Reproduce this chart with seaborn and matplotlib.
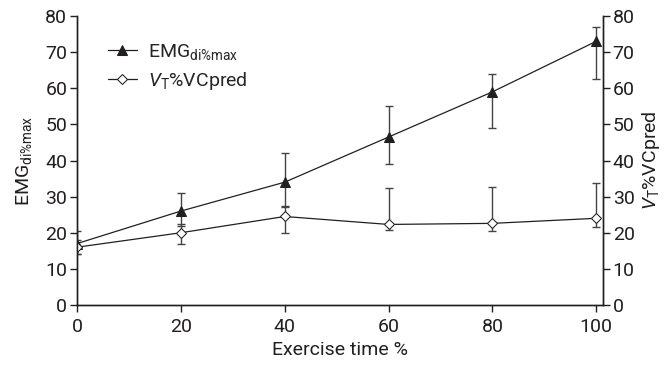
import numpy as np
import pandas as pd
import matplotlib
matplotlib.use("Agg")
import matplotlib.pyplot as plt
import seaborn as sns

# values
time_pct = [0, 20, 40, 60, 80, 100]
emg = [17.0, 26.0, 34.0, 46.5, 59.0, 73.0]
emg_lo = [14.0, 22.0, 27.5, 39.0, 49.0, 62.5]
emg_hi = [20.5, 31.0, 42.0, 55.0, 64.0, 77.0]
vt = [16.0, 20.0, 24.5, 22.3, 22.6, 24.0]
vt_lo = [14.0, 16.8, 20.0, 20.8, 20.5, 21.5]
vt_hi = [18.0, 22.5, 27.0, 32.3, 32.6, 33.8]
y_ticks = [0, 10, 20, 30, 40, 50, 60, 70, 80]
x_ticks = [0, 20, 40, 60, 80, 100]

sns.set_style("ticks")
plt.rcParams["font.family"] = ["Roboto", "DejaVu Sans"]
plt.rcParams["mathtext.fontset"] = "custom"
plt.rcParams["mathtext.rm"] = "Roboto"
plt.rcParams["mathtext.it"] = "Roboto:italic"

df = pd.DataFrame({"time": time_pct, "emg": emg, "vt": vt})

fig = plt.figure(figsize=(6.65, 3.67), dpi=100)
ax = fig.add_axes([77 / 665, 62 / 367, 526 / 665, 289 / 367])
ax2 = ax.twinx()

col = "#231f20"
fs = 14
ax.errorbar(time_pct, emg, yerr=[np.subtract(emg, emg_lo), np.subtract(emg_hi, emg)],
            fmt="none", ecolor="#444444", elinewidth=1.0, capsize=3, capthick=1.0)
sns.lineplot(data=df, x="time", y="emg", ax=ax, color=col, lw=0.9, marker="^",
             markersize=6.5, markerfacecolor=col, markeredgecolor=col,
             label=r"EMG$_{\mathrm{di\%max}}$", legend=False)
ax2.errorbar(time_pct, vt, yerr=[np.subtract(vt, vt_lo), np.subtract(vt_hi, vt)],
             fmt="none", ecolor="#444444", elinewidth=1.0, capsize=3, capthick=1.0)
sns.lineplot(data=df, x="time", y="vt", ax=ax2, color=col, lw=0.9, marker="D",
             markersize=5.5, markerfacecolor="white", markeredgecolor=col,
             label=r"$\mathit{V}_{\mathrm{T}}$%VCpred", legend=False)

for a in (ax, ax2):
    a.set_ylim(0, 80)
    a.set_yticks(y_ticks)
    a.tick_params(labelsize=fs, length=5, width=1, pad=2, colors="#231f20")
    for s in a.spines.values():
        s.set_color("#231f20")
        s.set_linewidth(1)
    a.spines["top"].set_visible(False)
ax.set_xlim(0, 101.3)
ax.set_xticks(x_ticks)
ax.tick_params(axis="x", pad=4)

ax.set_xlabel("Exercise time %", fontsize=fs, color="#231f20", labelpad=4)
ax.set_ylabel(r"EMG$_{\mathrm{di\%max}}$", fontsize=fs, color="#231f20", labelpad=8)
ax2.set_ylabel(r"$\mathit{V}_{\mathrm{T}}$%VCpred", fontsize=fs, color="#231f20", labelpad=4)

h1, l1 = ax.get_legend_handles_labels()
h2, l2 = ax2.get_legend_handles_labels()
ax2.legend(h1 + h2, l1 + l2, loc="upper left", bbox_to_anchor=(0.025, 0.97),
           frameon=False, fontsize=fs, handlelength=1.5, handletextpad=0.6,
           labelspacing=0.4)

fig.savefig("out.png", dpi=100)
